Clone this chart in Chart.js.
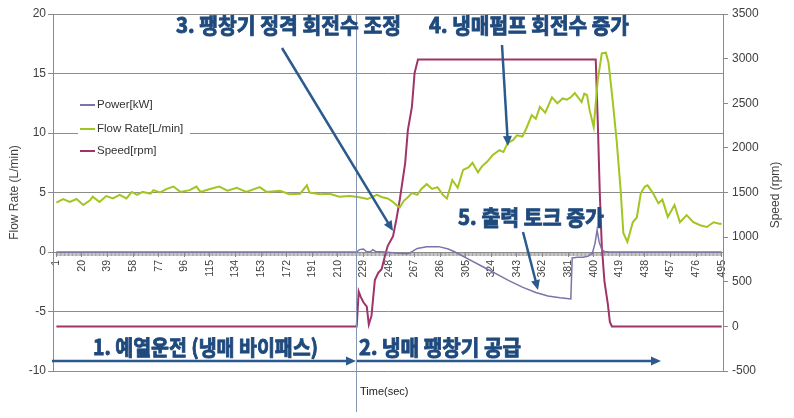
<!DOCTYPE html>
<html>
<head>
<meta charset="utf-8">
<script src="https://cdn.jsdelivr.net/npm/chart.js@4.4.1/dist/chart.umd.min.js"></script>
<style>
  body { margin: 0; background: #fff; }
  #chart-canvas { display: block; }
</style>
</head>
<body>
<canvas id="chart-canvas" width="794" height="418"></canvas>
<script>
// sample index (sec) tick labels on the time axis
const timeTicks = [1, 20, 39, 58, 77, 96, 115, 134, 153, 172, 191, 210, 229, 248, 267,
  286, 305, 324, 343, 362, 381, 400, 419, 438, 457, 476, 495];

// Power [kW] (left axis)
const powerT = [1, 60, 120, 180, 224, 226, 229, 231, 234, 236, 238, 245, 255, 262, 266, 269,
  276, 285, 292, 297, 307, 317, 327, 337, 347, 357, 366, 375, 380, 383, 384, 388, 392, 396,
  399, 401, 402.5, 404, 406, 408, 412, 450, 495];
const powerV = [0, 0, 0, 0, 0, 0.2, 0.25, 0.05, 0, 0.2, 0.05, 0, -0.1, -0.15, 0.1, 0.3,
  0.45, 0.45, 0.25, 0, -0.6, -1.2, -1.8, -2.4, -2.95, -3.4, -3.7, -3.85, -3.9, -3.95, -0.5, -0.45, -0.45, -0.35,
  -0.1, 0.75, 1.85, 0.85, 0.2, 0.05, 0, 0, 0];

// Flow Rate [L/min] (left axis)
const flowT = [1, 6, 11, 16, 21, 26, 28, 33, 38, 43, 48, 53, 57, 61, 65, 71, 73, 78, 83, 88,
  93, 100, 105, 108, 115, 122, 128, 135, 142, 152, 157, 167, 174, 182, 187, 189, 197, 204,
  211, 219, 226, 232, 239, 243, 247, 251, 254, 256, 259, 262, 265, 269, 272, 276, 280, 284,
  288, 291, 295, 299, 303, 307, 310, 314, 317, 321, 325, 330, 333, 336, 340, 343, 347, 350,
  354, 357, 360, 364, 369, 373, 377, 380, 383, 386, 389, 391, 393, 395, 397, 400, 403, 406,
  409, 411, 414, 417, 420, 422, 425, 426, 429, 432, 435, 438, 440, 444, 448, 451, 455, 460,
  464, 469, 474, 479, 484, 489, 494, 495];
const flowV = [4.15, 4.45, 4.2, 4.45, 3.95, 4.35, 4.65, 4.2, 4.7, 4.5, 4.8, 4.5, 5.05, 4.8, 5.05, 4.9, 5.2, 5.0, 5.3, 5.5,
  5.05, 5.2, 5.5, 5.05, 5.3, 5.5, 5.15, 5.4, 5.05, 5.45, 5.05, 5.15, 4.85, 4.9, 5.6, 5.0, 4.85, 4.9,
  4.65, 4.7, 4.6, 4.45, 4.8, 4.6, 4.5, 4.2, 3.9, 3.75, 4.3, 4.6, 4.95, 4.8, 5.3, 5.7, 5.3, 5.45,
  4.8, 4.5, 6.05, 5.4, 6.9, 7.1, 7.5, 6.7, 7.2, 7.6, 8.15, 8.55, 8.4, 9.15, 9.4, 9.8, 9.7, 10.4,
  11.5, 11.2, 12.2, 11.7, 13.0, 12.5, 12.9, 12.8, 13.0, 13.35, 12.9, 12.6, 13.3, 13.2, 11.9, 10.5, 14.45, 16.7,
  16.75, 15.9, 12.8, 9.4, 5.2, 1.6, 0.85, 1.25, 2.5, 2.9, 4.95, 5.5, 5.6, 4.95, 4.1, 4.4, 2.95, 3.95,
  2.5, 3.1, 2.5, 2.25, 2.1, 2.5, 2.35, 2.4];

// Speed [rpm] (right axis)
const speedT = [1, 100, 200, 224, 225.5, 227, 229, 231.5, 233, 235, 237.5, 240, 242.5, 245,
  247, 251, 253.5, 256, 260, 262, 265, 267, 269.5, 330, 401.5, 403, 404.5, 406, 408, 410.5,
  412, 413.5, 450, 495];
const speedV = [0, 0, 0, 0, 390, 330, 270, 220, 20, 120, 520, 600, 640, 790,
  900, 1010, 1200, 1420, 1830, 2200, 2460, 2840, 2990, 2990, 2990, 2300, 1500, 900, 500, 250,
  50, 0, 0, 0];

const pairs = (t, v) => t.map((x, i) => ({ x: x, y: v[i] }));

const noteBlue = '#1f4a7d';
const arrowBlue = '#2b5a8f';

const drawArrow = (ctx, x1, y1, x2, y2) => {
  const a = Math.atan2(y2 - y1, x2 - x1);
  const len = 10, hw = 4.5;
  ctx.save();
  ctx.strokeStyle = arrowBlue;
  ctx.fillStyle = arrowBlue;
  ctx.lineWidth = 2.5;
  ctx.beginPath();
  ctx.moveTo(x1, y1);
  ctx.lineTo(x2 - Math.cos(a) * len * 0.8, y2 - Math.sin(a) * len * 0.8);
  ctx.stroke();
  ctx.beginPath();
  ctx.moveTo(x2, y2);
  ctx.lineTo(x2 - Math.cos(a) * len - Math.sin(a) * hw, y2 - Math.sin(a) * len + Math.cos(a) * hw);
  ctx.lineTo(x2 - Math.cos(a) * len + Math.sin(a) * hw, y2 - Math.sin(a) * len - Math.cos(a) * hw);
  ctx.closePath();
  ctx.fill();
  ctx.restore();
};

const fitText = (ctx, str, x1, x2, cy, size) => {
  ctx.save();
  ctx.font = "bold " + size + "px 'Noto Sans CJK KR'";
  const w = ctx.measureText(str).width;
  ctx.translate(x1, cy);
  ctx.scale((x2 - x1) / w, 1);
  ctx.textAlign = 'left';
  ctx.textBaseline = 'middle';
  ctx.fillStyle = noteBlue;
  ctx.strokeStyle = noteBlue;
  ctx.lineWidth = 0.9;
  ctx.fillText(str, 0, 0);
  ctx.strokeText(str, 0, 0);
  ctx.restore();
};

const decor = {
  id: 'decor',
  beforeDatasetsDraw(chart) {
    const ctx = chart.ctx;
    const xs = chart.scales.x;
    const y0 = chart.scales.y.getPixelForValue(0);
    ctx.save();
    ctx.strokeStyle = '#8a8a8a';
    ctx.lineWidth = 0.8;
    ctx.beginPath();
    for (let t = 1; t <= 495; t += 1) {
      const px = xs.getPixelForValue(t);
      ctx.moveTo(px, y0);
      ctx.lineTo(px, y0 + 4);
    }
    ctx.stroke();
    ctx.restore();
  },
  afterDraw(chart) {
    const ctx = chart.ctx;
    const xs = chart.scales.x;
    const area = chart.chartArea;

    // legend
    ctx.save();
    ctx.fillStyle = '#fff';
    ctx.fillRect(78, 92, 112, 72);
    const rows = [105, 129, 151];
    ctx.font = "11.5px 'Liberation Sans'";
    ctx.textBaseline = 'middle';
    chart.data.datasets.forEach((ds, i) => {
      ctx.strokeStyle = ds.borderColor;
      ctx.lineWidth = 2;
      ctx.beginPath();
      ctx.moveTo(80, rows[i]);
      ctx.lineTo(95, rows[i]);
      ctx.stroke();
      ctx.fillStyle = '#333';
      ctx.fillText(ds.label, 97, rows[i]);
    });
    ctx.restore();

    // phase divider
    const vx = Math.round(xs.getPixelForValue(223.5)) + 0.5;
    ctx.save();
    ctx.strokeStyle = '#8797b3';
    ctx.lineWidth = 1;
    ctx.beginPath();
    ctx.moveTo(vx, area.top);
    ctx.lineTo(vx, 412);
    ctx.stroke();
    ctx.restore();

    // axis captions
    ctx.save();
    ctx.fillStyle = '#222';
    ctx.font = "11px 'Liberation Sans'";
    ctx.textBaseline = 'middle';
    ctx.fillText('Time(sec)', 360, 392);
    ctx.font = "12px 'Liberation Sans'";
    ctx.fillStyle = '#404040';
    ctx.translate(776, 195);
    ctx.rotate(-Math.PI / 2);
    ctx.textAlign = 'center';
    ctx.fillText('Speed (rpm)', 0, 0);
    ctx.restore();

    // notes
    fitText(ctx, '1. 예열운전 (냉매 바이패스)', 93, 318, 347, 21);
    fitText(ctx, '2. 냉매 팽창기 공급', 359, 521, 347, 21);
    fitText(ctx, '3. 팽창기 정격 회전수 조정', 176, 401, 25, 21);
    fitText(ctx, '4. 냉매펌프 회전수 증가', 429, 629, 25, 21);
    fitText(ctx, '5. 출력 토크 증가', 458, 604, 217, 21);

    drawArrow(ctx, 52, 361, 356, 361);
    drawArrow(ctx, 357, 361, 661, 361);
    drawArrow(ctx, 282, 48, 393, 231);
    drawArrow(ctx, 502, 45, 508, 146);
    drawArrow(ctx, 523, 232, 538, 290);
  }
};

const tickFont = { family: "'Liberation Sans'", size: 12 };
const plainNumber = (v) => String(v);

new Chart(document.getElementById('chart-canvas'), {
  type: 'line',
  data: {
    datasets: [
      { label: 'Power[kW]', data: pairs(powerT, powerV), borderColor: '#7b73aa', borderWidth: 1.5, yAxisID: 'y' },
      { label: 'Flow Rate[L/min]', data: pairs(flowT, flowV), borderColor: '#a2c523', borderWidth: 2, yAxisID: 'y' },
      { label: 'Speed[rpm]', data: pairs(speedT, speedV), borderColor: '#a03368', borderWidth: 2, yAxisID: 'y1' }
    ]
  },
  options: {
    responsive: false,
    animation: false,
    layout: { padding: { top: 14, bottom: 47, left: 0, right: 0 } },
    elements: { point: { radius: 0 }, line: { tension: 0 } },
    plugins: { legend: { display: false }, tooltip: { enabled: false } },
    scales: {
      x: {
        type: 'linear',
        position: { y: 0 },
        min: -1.5,
        max: 496,
        afterBuildTicks: (scale) => { scale.ticks = timeTicks.map(v => ({ value: v })); },
        ticks: { autoSkip: false, minRotation: 90, maxRotation: 90, padding: 4, callback: plainNumber,
          color: '#404040', font: { family: "'Liberation Sans'", size: 10.5 } },
        grid: { drawOnChartArea: false, tickLength: 4, color: '#8a8a8a' },
        border: { color: '#8a8a8a' }
      },
      y: {
        position: 'left',
        min: -10,
        max: 20,
        afterFit: (scale) => { scale.width = 53; },
        ticks: { stepSize: 5, padding: 2, callback: plainNumber, color: '#404040', font: tickFont },
        grid: { color: '#8c8c8c', tickLength: 5 },
        border: { color: '#8a8a8a' },
        title: { display: true, text: 'Flow Rate (L/min)', color: '#404040',
          font: { family: "'Liberation Sans'", size: 12 }, padding: { top: 7, bottom: 0 } }
      },
      y1: {
        position: 'right',
        min: -500,
        max: 3500,
        afterFit: (scale) => { scale.width = 71; },
        ticks: { stepSize: 500, padding: 4, callback: plainNumber, color: '#404040', font: tickFont },
        grid: { drawOnChartArea: false, color: '#8a8a8a', tickLength: 5 },
        border: { color: '#8a8a8a' }
      }
    }
  },
  plugins: [decor]
});
</script>
</body>
</html>
